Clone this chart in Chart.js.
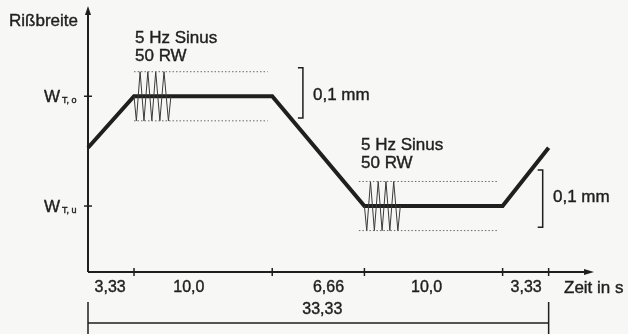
<!DOCTYPE html>
<html>
<head>
  <title>Rißbreite über Zeit</title>
  <script src="https://cdn.jsdelivr.net/npm/chart.js"></script>
  <style>
    html, body { margin: 0; padding: 0; background: #f7f7f5; }
    #chart { display: block; }
  </style>
</head>
<body>
  <canvas id="chart" width="628" height="334"></canvas>
  <script>
    // crack width levels (mm, schematic)
    const wTo = 0.365;
    const wTu = 0.137;

    // main load path
    const pathT = [0, 3.33, 13.33, 20, 30, 33.33];
    const pathW = [0.258, 0.365, 0.365, 0.137, 0.137, 0.258];

    // sine cycles, drawn as zigzag
    const zig1T = [3.33, 3.5, 3.77, 4.05, 4.33, 4.62, 4.9, 5.2, 5.5, 5.82, 6.0];
    const zig1W = [0.365, 0.314, 0.416, 0.314, 0.416, 0.314, 0.416, 0.314, 0.416, 0.314, 0.365];
    const zig2T = [20, 20.17, 20.44, 20.72, 21.0, 21.28, 21.56, 21.84, 22.12, 22.42, 22.6];
    const zig2W = [0.137, 0.086, 0.188, 0.086, 0.188, 0.086, 0.188, 0.086, 0.188, 0.086, 0.137];

    // amplitude bounds (dotted)
    const band1T = [3.33, 13.0];
    const band1W = [0.416, 0.314];
    const band2T = [19.6, 29.7];
    const band2W = [0.188, 0.086];

    // 0,1 mm brackets
    const brackT = [15.55, 32.9];
    const brackW = [[0.424, 0.320], [0.212, 0.093]];

    // time axis
    const xTicks = [3.33, 13.33, 20, 30, 33.33];
    const segLabels = ["3,33", "10,0", "6,66", "10,0", "3,33"];
    const segLabelT = [1.6, 7.3, 17.4, 24.5, 31.7];
    const totalLabel = "33,33";
    const totalT = 33.33;

    const FONT = '"Liberation Sans", Arial, sans-serif';
    const INK = "#1f1f1f";

    function pts(t, w) {
      return t.map((v, i) => ({ x: v, y: w[i] }));
    }

    // slightly heavy text, like the scanned original
    function txt(c, s, x, y) {
      c.fillText(s, x, y);
      c.strokeText(s, x, y);
    }

    const drawing = {
      id: "drawing",
      beforeDraw(chart) {
        const c = chart.ctx;
        c.save();
        c.fillStyle = "#f7f7f5";
        c.fillRect(0, 0, chart.width, chart.height);
        c.restore();
      },
      afterDraw(chart) {
        const c = chart.ctx;
        const xs = chart.scales.x, ys = chart.scales.y;
        const x0 = xs.getPixelForValue(0);
        const y0 = ys.getPixelForValue(0);
        c.save();
        c.strokeStyle = INK;
        c.fillStyle = INK;
        c.lineWidth = 2;

        // axes
        c.beginPath();
        c.moveTo(x0, y0);
        c.lineTo(x0, 12);
        c.moveTo(x0, y0);
        c.lineTo(588, y0);
        c.stroke();
        // arrow heads
        c.beginPath();
        c.moveTo(x0, 6); c.lineTo(x0 - 3, 15); c.lineTo(x0 + 3, 15); c.closePath();
        c.fill();
        c.beginPath();
        c.moveTo(594, y0); c.lineTo(584, y0 - 3); c.lineTo(584, y0 + 3); c.closePath();
        c.fill();

        // y ticks + labels
        [[wTo, "T, o"], [wTu, "T, u"]].forEach(([w, sub]) => {
          const py = ys.getPixelForValue(w);
          c.lineWidth = 1.5;
          c.beginPath();
          c.moveTo(x0 - 4, py); c.lineTo(x0 + 4, py);
          c.stroke();
          c.lineWidth = 0.4;
          c.textBaseline = "alphabetic";
          c.textAlign = "left";
          c.font = "17px " + FONT;
          txt(c, "W", 44, py + 6);
          c.font = "9px " + FONT;
          txt(c, sub, 62, py + 7);
        });

        // x ticks
        c.lineWidth = 1.5;
        xTicks.forEach(t => {
          const px = xs.getPixelForValue(t);
          c.beginPath();
          c.moveTo(px, y0 - 4); c.lineTo(px, y0 + 4);
          c.stroke();
        });

        // overall duration dimension
        const xe = xs.getPixelForValue(totalT);
        c.beginPath();
        c.moveTo(x0, 302); c.lineTo(x0, 334);
        c.moveTo(xe, 302); c.lineTo(xe, 334);
        c.moveTo(x0, 323); c.lineTo(xe, 323);
        c.stroke();

        // brackets
        brackT.forEach((t, i) => {
          const px = xs.getPixelForValue(t);
          const a = ys.getPixelForValue(brackW[i][0]);
          const b = ys.getPixelForValue(brackW[i][1]);
          c.beginPath();
          c.moveTo(px - 5, a); c.lineTo(px, a); c.lineTo(px, b); c.lineTo(px - 5, b);
          c.stroke();
        });

        // x segment labels
        c.lineWidth = 0.4;
        c.font = "16px " + FONT;
        c.textAlign = "center";
        c.textBaseline = "middle";
        segLabels.forEach((s, i) => {
          txt(c, s, xs.getPixelForValue(segLabelT[i]), 288);
        });
        txt(c, totalLabel, (x0 + xe) / 2 + 4, 310);
        c.textAlign = "left";
        c.font = "17px " + FONT;
        txt(c, "Zeit in s", 564, 288);

        // y axis title
        txt(c, "Rißbreite", 9, 21);

        // annotations
        txt(c, "5 Hz Sinus", 135, 38);
        txt(c, "50 RW", 135, 56);
        txt(c, "5 Hz Sinus", 361, 145);
        txt(c, "50 RW", 361, 163);
        txt(c, "0,1 mm", 313, 95);
        txt(c, "0,1 mm", 553, 197);
        c.restore();
      }
    };

    const thin = { showLine: true, pointRadius: 0, borderColor: "#3a3a3a", borderWidth: 1, fill: false, clip: false };
    const dotted = { showLine: true, pointRadius: 0, borderColor: "#6a6a6a", borderWidth: 1, borderDash: [1.5, 2], fill: false, clip: false };

    new Chart(document.getElementById("chart"), {
      type: "scatter",
      data: {
        datasets: [
          Object.assign({ data: pts(band1T, [band1W[0], band1W[0]]) }, dotted),
          Object.assign({ data: pts(band1T, [band1W[1], band1W[1]]) }, dotted),
          Object.assign({ data: pts(band2T, [band2W[0], band2W[0]]) }, dotted),
          Object.assign({ data: pts(band2T, [band2W[1], band2W[1]]) }, dotted),
          Object.assign({ data: pts(zig1T, zig1W) }, thin),
          Object.assign({ data: pts(zig2T, zig2W) }, thin),
          {
            data: pts(pathT, pathW),
            showLine: true,
            pointRadius: 0,
            borderColor: INK,
            borderWidth: 4,
            borderJoinStyle: "miter",
            fill: false,
            clip: false
          }
        ]
      },
      options: {
        responsive: false,
        animation: false,
        layout: { padding: { left: 88, right: 1, top: 12, bottom: 62 } },
        plugins: { legend: { display: false }, tooltip: { enabled: false } },
        scales: {
          x: { type: "linear", min: 0, max: 39, display: false },
          y: { type: "linear", min: 0, max: 0.54, display: false }
        }
      },
      plugins: [drawing]
    });
  </script>
</body>
</html>
